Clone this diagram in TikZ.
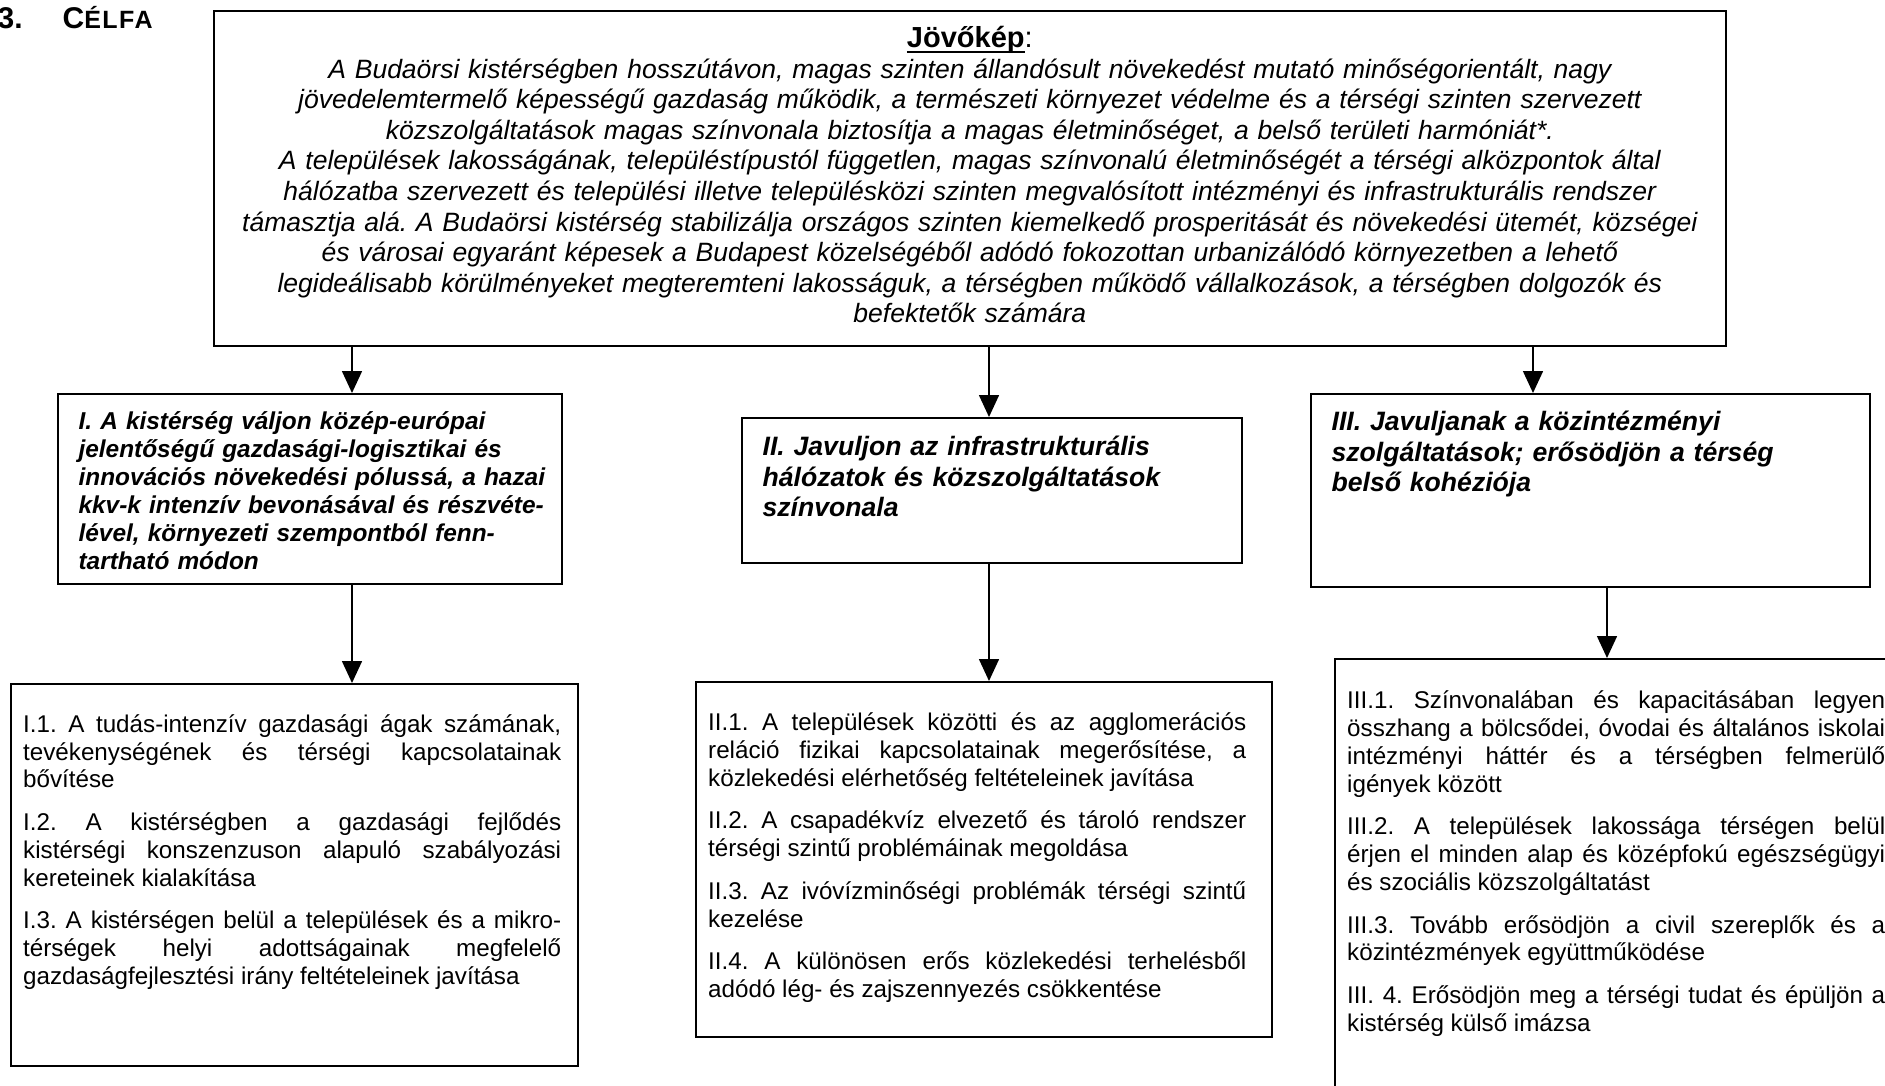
\documentclass[tikz,border=0pt]{standalone}
\usepackage{fontspec}
\setmainfont{Liberation Sans}
\usetikzlibrary{positioning, arrows.meta}
\frenchspacing
\newcommand{\ultext}[1]{\setbox0\hbox{#1}\rlap{\rule[-2.8pt]{\wd0}{0.85pt}}\box0}

\begin{document}
\begin{tikzpicture}[
    x = 0.5pt, y = -0.5pt,
    semithick,
    ]
    \tikzstyle{panel}=[ draw = black, line width = 0.85pt, inner sep = 0pt, anchor = north west ]
    \tikzstyle{goaltext}=[ inner sep = 0pt, align = left, font = \fontsize{13.3}{15.3}\selectfont\bfseries\itshape ]
    \tikzstyle{tasktext}=[ inner sep = 0pt, text width = 269pt, align = justify, font = \fontsize{12.1}{13.9}\selectfont ]
    \tikzstyle{arr}=[ line width = 0.8pt, -{Triangle[length = 11pt, width = 10pt]} ]
    \useasboundingbox (0,0) rectangle (1885,1086);
    \clip (0,0) rectangle (1885,1086);
    \node[anchor = base west, inner sep = 0pt] (title) at (-3,29) {\fontsize{15}{18}\selectfont\bfseries 3.\hspace{20pt}C{\fontsize{12.5}{15}\selectfont\addfontfeatures{LetterSpace=6}ÉLFA}};
    \node[panel, minimum width = 756pt, minimum height = 167.5pt] (vision) at (213,10) {};
    \node[panel, minimum width = 252pt, minimum height = 95pt] (I) at (57,393) {};
    \node[panel, minimum width = 250pt, minimum height = 72.5pt] (II) at (741,417) {};
    \node[panel, minimum width = 279.5pt, minimum height = 96.5pt] (III) at (1310,393) {};
    \node[panel, minimum width = 283.5pt, minimum height = 191pt] (I1) at (10,683) {};
    \node[panel, minimum width = 288pt, minimum height = 177.5pt] (II1) at (695,681) {};
    \node[panel, minimum width = 288pt, minimum height = 225pt] (III1) at (1334,658) {};
    \node[inner sep = 0pt, text width = 750pt, align = center, font = \fontsize{13.25}{15.3}\selectfont\itshape, below = 7.5pt of vision.north] (visiontext) {\rule{0pt}{11pt}{\fontsize{14.5}{16.7}\selectfont\upshape\ultext{\textbf{Jövőkép}}:}\\
    A Budaörsi kistérségben hosszútávon, magas szinten állandósult növekedést mutató minőségorientált, nagy\\
    jövedelemtermelő képességű gazdaság működik, a természeti környezet védelme és a térségi szinten szervezett\\
    közszolgáltatások magas színvonala biztosítja a magas életminőséget, a belső területi harmóniát*.\\
    A települések lakosságának, településtípustól független, magas színvonalú életminőségét a térségi alközpontok által\\
    hálózatba szervezett és települési illetve településközi szinten megvalósított intézményi és infrastrukturális rendszer\\
    támasztja alá. A Budaörsi kistérség stabilizálja országos szinten kiemelkedő prosperitását és növekedési ütemét, községei\\
    és városai egyaránt képesek a Budapest közelségéből adódó fokozottan urbanizálódó környezetben a lehető\\
    legideálisabb körülményeket megteremteni lakosságuk, a térségben működő vállalkozások, a térségben dolgozók és\\
    befektetők számára};
    \node[goaltext, text width = 240pt, font = \fontsize{12.2}{14}\selectfont\bfseries\itshape, below right = 7.95pt and 10.5pt of I.north west] (Itext) {\strut I. A kistérség váljon közép-európai\\
    jelentőségű gazdasági-logisztikai és\\
    innovációs növekedési pólussá, a hazai\\
    kkv-k intenzív bevonásával és részvéte-\\
    lével, környezeti szempontból fenn-\\
    tartható módon};
    \node[goaltext, text width = 235pt, below right = 8.3pt and 10.5pt of II.north west] (IItext) {\strut II. Javuljon az infrastrukturális\\
    hálózatok és közszolgáltatások\\
    színvonala};
    \node[goaltext, text width = 265pt, below right = 7.8pt and 10.5pt of III.north west] (IIItext) {\strut III. Javuljanak a közintézményi\\
    szolgáltatások; erősödjön a térség\\
    belső kohéziója};
    \node[tasktext, below right = 14.6pt and 6.3pt of I1.north west] (I1text) {\strut I.1. A tudás-intenzív gazdasági ágak számának,\linebreak
    tevékenységének és térségi kapcsolatainak\linebreak
    bővítése\\[7.4pt]
    I.2. A kistérségben a gazdasági fejlődés\linebreak
    kistérségi konszenzuson alapuló szabályozási\linebreak
    kereteinek kialakítása\\[7.4pt]
    I.3. A kistérségen belül a települések és a mikro-\linebreak
    térségek helyi adottságainak megfelelő\linebreak
    gazdaságfejlesztési irány feltételeinek javítása};
    \node[tasktext, below right = 14.8pt and 6.3pt of II1.north west] (II1text) {\strut II.1. A települések közötti és az agglomerációs\linebreak
    reláció fizikai kapcsolatainak megerősítése, a\linebreak
    közlekedési elérhetőség feltételeinek javítása\\[7.4pt]
    II.2. A csapadékvíz elvezető és tároló rendszer\linebreak
    térségi szintű problémáinak megoldása\\[7.4pt]
    II.3. Az ivóvízminőségi problémák térségi szintű\linebreak
    kezelése\\[7.4pt]
    II.4. A különösen erős közlekedési terhelésből\linebreak
    adódó lég- és zajszennyezés csökkentése};
    \node[tasktext, below right = 15.4pt and 6.3pt of III1.north west] (III1text) {\strut III.1. Színvonalában és kapacitásában legyen\linebreak
    összhang a bölcsődei, óvodai és általános iskolai\linebreak
    intézményi háttér és a térségben felmerülő\linebreak
    igények között\\[7.4pt]
    III.2. A települések lakossága térségen belül\linebreak
    érjen el minden alap és középfokú egészségügyi\linebreak
    és szociális közszolgáltatást\\[7.4pt]
    III.3. Tovább erősödjön a civil szereplők és a\linebreak
    közintézmények együttműködése\\[7.4pt]
    III. 4. Erősödjön meg a térségi tudat és épüljön a\linebreak
    kistérség külső imázsa};
    \coordinate (colI) at (352,0);
    \coordinate (colII) at (989,0);
    \coordinate (colIIIa) at (1533,0);
    \coordinate (colIIIb) at (1607,0);
    \draw[arr] (vision.south -| colI) -- (I.north -| colI);
    \draw[arr] (vision.south -| colII) -- (II.north -| colII);
    \draw[arr] (vision.south -| colIIIa) -- (III.north -| colIIIa);
    \draw[arr] (I.south -| colI) -- (I1.north -| colI);
    \draw[arr] (II.south -| colII) -- (II1.north -| colII);
    \draw[arr] (III.south -| colIIIb) -- (III1.north -| colIIIb);
  \end{tikzpicture}
\end{document}
